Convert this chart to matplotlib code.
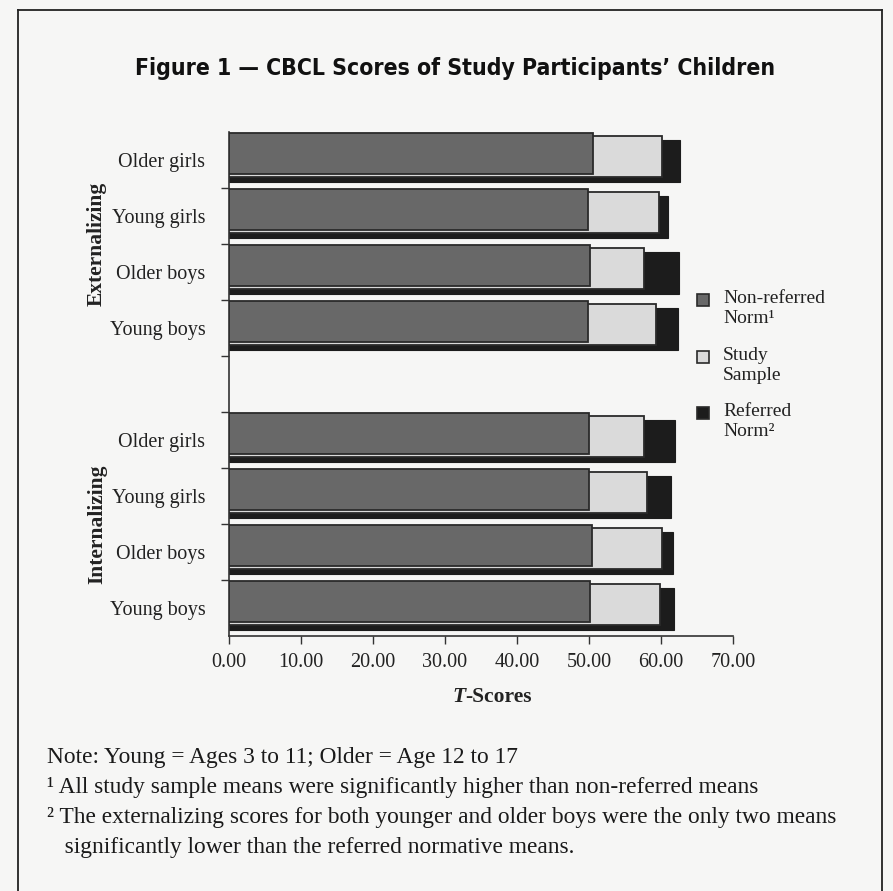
import numpy as np
import matplotlib
matplotlib.use("Agg")
import matplotlib.pyplot as plt
from matplotlib.patches import Rectangle
from matplotlib.lines import Line2D

# data (T-scores)
categories = ['Older girls', 'Young girls', 'Older boys', 'Young boys']
groups = ['Externalizing', 'Internalizing']
non_referred = [50.5, 49.8, 50.2, 49.8, 50.0, 50.0, 50.4, 50.2]
study_sample = [60.2, 59.7, 57.7, 59.3, 57.6, 58.1, 60.2, 59.8]
referred = [62.6, 61.0, 62.5, 62.4, 61.9, 61.4, 61.6, 61.8]
xticks = [0, 10, 20, 30, 40, 50, 60, 70]
legend_labels = ['Non-referred\nNorm\u00b9', 'Study\nSample', 'Referred\nNorm\u00b2']
notes = ['Note: Young = Ages 3 to 11; Older = Age 12 to 17',
         '\u00b9 All study sample means were significantly higher than non-referred means',
         '\u00b2 The externalizing scores for both younger and older boys were the only two means',
         '   significantly lower than the referred normative means.']

W, H = 893, 891
SERIF = 'Liberation Serif'
bg = '#f6f6f5'
c_dark = '#686868'
c_light = '#dadada'
c_black = '#1c1c1c'
c_edge = '#2a2a2a'


def fx(px):
    return px / W


def fy(py):
    return 1 - py / H


fig = plt.figure(figsize=(W / 100, H / 100), dpi=100, facecolor=bg)
ax = fig.add_axes([fx(229), fy(636), fx(733) - fx(229), fy(132) - fy(636)])
ax.set_facecolor(bg)

pos = [0, 1, 2, 3, 5, 6, 7, 8]
ylabels = categories + categories

# back to front: referred, study sample, non-referred (each shifted down a bit)
for i, p in enumerate(pos):
    top = p - 0.5
    ax.barh(top + 0.14, referred[i], height=0.75, align='edge',
            color=c_black, edgecolor=c_black, linewidth=0.8, zorder=2)
    ax.barh(top + 0.08, study_sample[i], height=0.73, align='edge',
            color=c_light, edgecolor=c_edge, linewidth=1.3, zorder=3)
    ax.barh(top + 0.02, non_referred[i], height=0.73, align='edge',
            color=c_dark, edgecolor=c_edge, linewidth=1.3, zorder=4)

ax.set_xlim(0, 70)
ax.set_ylim(8.5, -0.5)
ax.set_xticks(xticks)
ax.set_xticklabels(['%.2f' % v for v in xticks], fontsize=14.5, family=SERIF,
                   color='#222222')
ax.tick_params(axis='x', length=6, width=1, pad=6, color='#333333')

# boundary ticks (unlabelled) and centred labels
ax.set_yticks([0.5, 1.5, 2.5, 3.5, 4.5, 5.5, 6.5, 7.5])
ax.set_yticklabels([])
ax.tick_params(axis='y', which='major', length=6, width=1, color='#333333')
ax.set_yticks(pos, minor=True)
ax.set_yticklabels(ylabels, minor=True, fontsize=14.5, family=SERIF,
                   color='#222222')
ax.tick_params(axis='y', which='minor', length=0, pad=17)

for s in ['top', 'right']:
    ax.spines[s].set_visible(False)
for s in ['left', 'bottom']:
    ax.spines[s].set_color('#333333')
    ax.spines[s].set_linewidth(1.2)

# group labels
fig.text(fx(97), fy(244), groups[0], rotation=90, ha='center', va='center',
         fontsize=15.5, fontweight='bold', family=SERIF, color='#222222')
fig.text(fx(97), fy(524), groups[1], rotation=90, ha='center', va='center',
         fontsize=15.5, fontweight='bold', family=SERIF, color='#222222')

# x axis label: italic T + upright -Scores
t_obj = fig.text(fx(452), fy(697), 'T', ha='left', va='center', fontsize=15.5,
                 fontweight='bold', fontstyle='italic', family=SERIF,
                 color='#222222')
ax.annotate('-Scores', xy=(1, 0), xycoords=t_obj, ha='left', va='bottom',
            fontsize=15.5, fontweight='bold', family=SERIF, color='#222222',
            annotation_clip=False)

# title
fig.text(fx(455), fy(68), 'Figure 1 \u2014 CBCL Scores of Study Participants\u2019 Children',
         ha='center', va='center', fontsize=16.5, fontweight='heavy',
         fontstretch='condensed', family='DejaVu Sans', color='#111111')

# legend
leg_colors = [c_dark, c_light, c_black]
leg_y = [300, 357, 413]
for lab, col, y in zip(legend_labels, leg_colors, leg_y):
    fig.patches.append(Rectangle((fx(697), fy(y + 6)), fx(12), fy(0) - fy(12),
                                 transform=fig.transFigure, facecolor=col,
                                 edgecolor=c_edge, linewidth=1.2))
    fig.text(fx(723), fy(y - 10), lab, ha='left', va='top', fontsize=14,
             family=SERIF, color='#222222', linespacing=1.2)

# notes
note_y = [757, 787, 817, 847]
for line, y in zip(notes, note_y):
    fig.text(fx(47), fy(y), line, ha='left', va='center', fontsize=16.8,
             family=SERIF, color='#1a1a1a')

# page frame
frame = [((18, 10), (18, 891)), ((18, 10), (882, 10)), ((882, 10), (882, 891))]
for (x0, y0), (x1, y1) in frame:
    fig.add_artist(Line2D([fx(x0), fx(x1)], [fy(y0), fy(y1)],
                          transform=fig.transFigure, color='#222222',
                          linewidth=1.3))

fig.savefig('out.png', dpi=100, facecolor=bg)
